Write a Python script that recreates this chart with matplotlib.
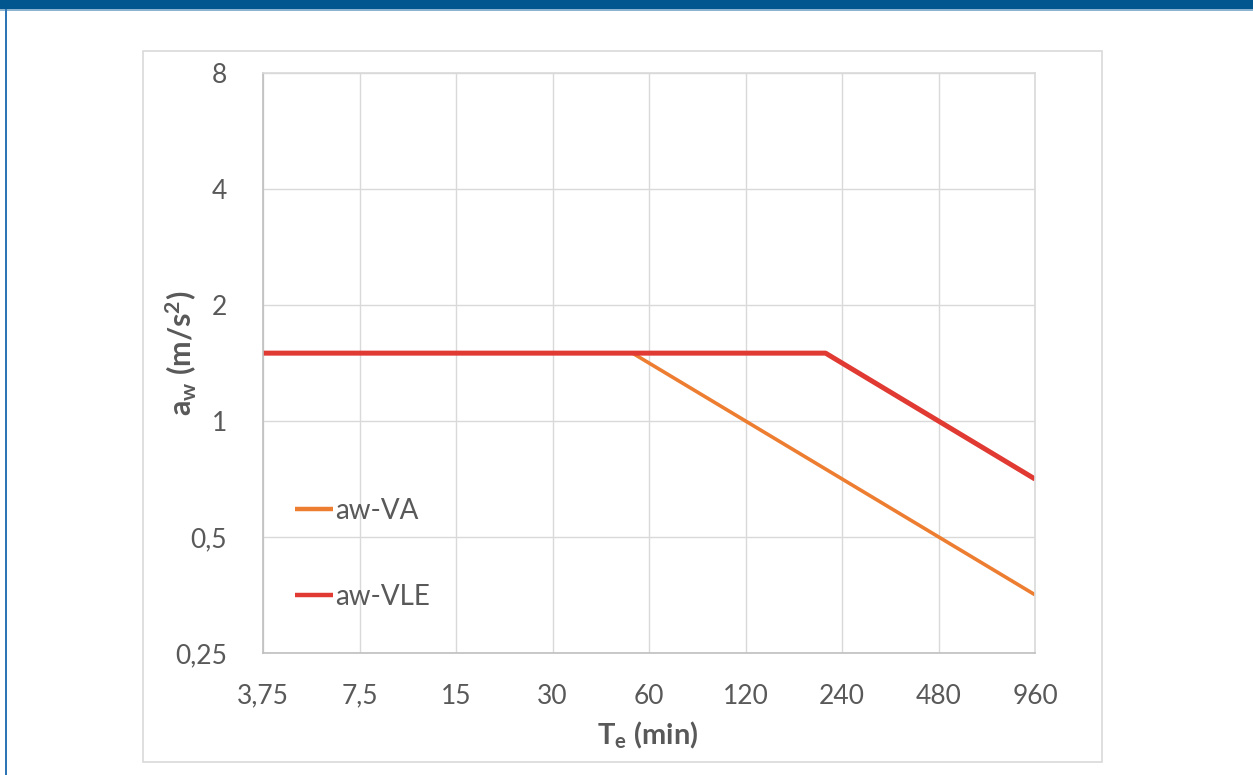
import matplotlib
matplotlib.use("Agg")
import matplotlib.pyplot as plt
from matplotlib.patches import Rectangle

# data (log2 axes)
t_va = [3.75, 53.3, 960]
aw_va = [1.5, 1.5, 0.354]
t_vle = [3.75, 213.3, 960]
aw_vle = [1.5, 1.5, 0.707]

x_ticks = [3.75, 7.5, 15, 30, 60, 120, 240, 480, 960]
x_labels = ["3,75", "7,5", "15", "30", "60", "120", "240", "480", "960"]
y_ticks = [0.25, 0.5, 1, 2, 4, 8]
y_labels = ["0,25", "0,5", "1", "2", "4", "8"]

plt.rcParams['font.family'] = ['Lato', 'DejaVu Sans']
plt.rcParams['mathtext.fontset'] = 'custom'
plt.rcParams['mathtext.rm'] = 'Lato'
plt.rcParams['mathtext.bf'] = 'Lato:bold'
plt.rcParams['mathtext.it'] = 'Lato:italic'

W, H = 1253, 775
fig = plt.figure(figsize=(W / 100, H / 100), dpi=100)
fig.patch.set_facecolor("white")

# page decorations: blue band on top, blue rule on the left, chart frame
deco = dict(transform=fig.transFigure, zorder=-5)
fig.patches.append(Rectangle((0, 1 - 9 / H), 1, 9 / H, facecolor="#02568F", edgecolor="none", **deco))
fig.patches.append(Rectangle((0, 1 - 11 / H), 1, 2 / H, facecolor="#8DB3D3", edgecolor="none", **deco))
fig.patches.append(Rectangle((5 / W, 0), 2 / W, 1 - 9 / H, facecolor="#2E75B6", edgecolor="none", **deco))
fig.patches.append(Rectangle((143 / W, 1 - 762 / H), (1102 - 143) / W, (762 - 51) / H,
                             facecolor="none", edgecolor="#D9D9D9", linewidth=1.2, **deco))

ax = fig.add_axes([263 / W, 1 - 653 / H, (1035 - 263) / W, (653 - 73) / H])
ax.set_facecolor("none")
ax.set_xscale("log", base=2)
ax.set_yscale("log", base=2)

ax.plot(t_va, aw_va, color="#ED7D31", linewidth=2.6, label="aw-VA", solid_capstyle="butt")
ax.plot(t_vle, aw_vle, color="#E03A33", linewidth=3.6, label="aw-VLE", solid_capstyle="butt")

ax.set_xlim(3.75, 960)
ax.set_ylim(0.25, 8)
ax.set_xticks(x_ticks)
ax.set_xticklabels(x_labels)
ax.set_yticks(y_ticks)
ax.set_yticklabels(y_labels)
ax.minorticks_off()
ax.tick_params(axis="both", length=0, labelsize=19, labelcolor="#595959")
ax.tick_params(axis="x", pad=22)
ax.tick_params(axis="y", pad=26)
ax.grid(True, color="#D9D9D9", linewidth=1)
ax.set_axisbelow(True)
for side in ["top", "right", "left", "bottom"]:
    ax.spines[side].set_color("#D9D9D9")
    ax.spines[side].set_linewidth(1.2)
ax.spines["left"].set_color("#BFBFBF")
ax.spines["bottom"].set_color("#BFBFBF")

ax.set_xlabel(r"$\mathbf{T_e}$ (min)", fontsize=21, fontweight="bold", color="#595959")
ax.xaxis.set_label_coords((648 - 263) / 772, (653 - 735) / 580)
ax.set_ylabel(r"$\mathbf{a_w}$ (m/s$^\mathbf{2}$)", fontsize=22, fontweight="bold", color="#595959")
ax.yaxis.set_label_coords((181 - 263) / 772, (653 - 353) / 580)
ax.xaxis.label.set_va("center")
ax.yaxis.label.set_va("center")

leg = ax.legend(loc="upper left", bbox_to_anchor=(295 / W, 1 - 498 / H),
                bbox_transform=fig.transFigure, frameon=False, fontsize=20,
                handlelength=1.35, handletextpad=0.1, labelspacing=2.15,
                borderaxespad=0, borderpad=0)
for txt in leg.get_texts():
    txt.set_color("#595959")
for line in leg.get_lines():
    line.set_linewidth(3.2)

fig.savefig("out.png", dpi=100, facecolor="white")
